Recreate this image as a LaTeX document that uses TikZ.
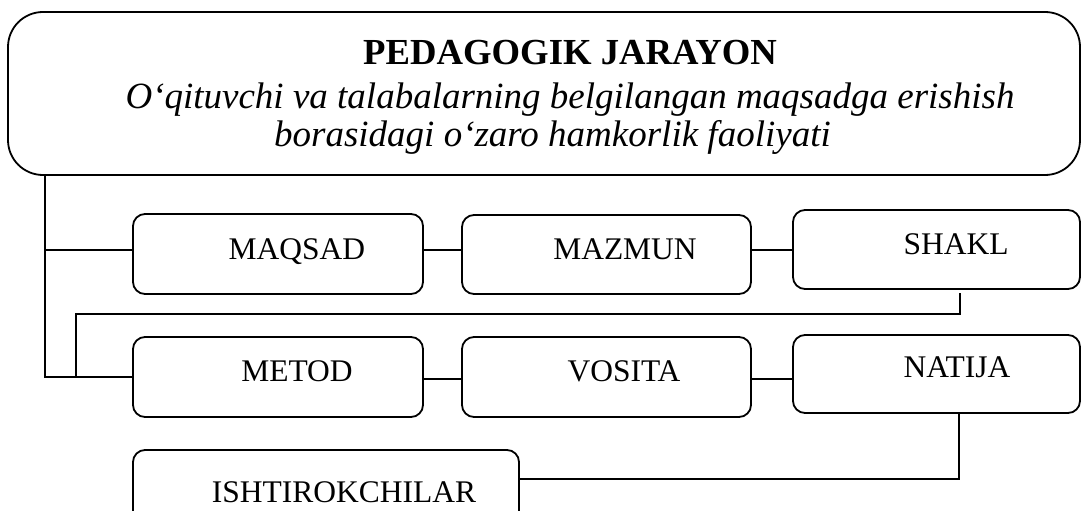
\documentclass[tikz,border=0pt]{standalone}
\usepackage{fontspec}
\setmainfont{Liberation Serif}
\usetikzlibrary{calc}
\begin{document}
\begin{tikzpicture}[x=1pt,y=-1pt,
  frame/.style={draw, line width=1.8pt, inner sep=0pt},
  smallbox/.style={frame, rounded corners=12pt, minimum height=79pt},
  lbl/.style={anchor=base, inner sep=0pt, font=\fontsize{31.5}{36}\selectfont},
  conn/.style={line width=1.8pt}]
\clip (0,0) rectangle (1082,511);
% header box
\node[frame, rounded corners=35pt, minimum width=1072pt, minimum height=163pt] (top) at (544,93.5) {};
\node[anchor=base, inner sep=0pt, font=\bfseries\fontsize{36.7}{40}\selectfont] (title) at (570,65) {PEDAGOGIK JARAYON};
\node[anchor=base, inner sep=0pt, font=\itshape\fontsize{37}{42}\selectfont] (def1) at (570,108) {O‘qituvchi va talabalarning belgilangan maqsadga erishish};
\node[anchor=base, inner sep=0pt, font=\itshape\fontsize{37}{42}\selectfont] (def2) at (552.5,146) {borasidagi o‘zaro hamkorlik faoliyati};
% row 1
\node[smallbox, minimum width=290pt, minimum height=80pt] (maqsad) at (278,254) {};
\node[smallbox, minimum width=289pt] (mazmun) at (606.5,254.5) {};
\node[smallbox, minimum width=287pt] (shakl) at (936.5,249.5) {};
\node[lbl] (tmaqsad) at (297,259) {MAQSAD};
\node[lbl] (tmazmun) at (625,259) {MAZMUN};
\node[lbl] (tshakl) at (956,254) {SHAKL};
% row 2
\node[smallbox, minimum width=290pt, minimum height=80pt] (metod) at (278,377) {};
\node[smallbox, minimum width=289pt, minimum height=80pt] (vosita) at (606.5,377) {};
\node[smallbox, minimum width=287pt, minimum height=78pt] (natija) at (936.5,374) {};
\node[lbl] (tmetod) at (297,381) {METOD};
\node[lbl] (tvosita) at (624,381) {VOSITA};
\node[lbl] (tnatija) at (957,377) {NATIJA};
% row 3
\node[smallbox, minimum width=386pt, minimum height=80pt] (ishtirok) at (326,490) {};
\node[lbl] (tishtirok) at (344,502) {ISHTIROKCHILAR};
% helper coordinates
\coordinate (spine) at (45,0);
\coordinate (r1) at (0,250);
\coordinate (r2) at (0,379);
\coordinate (ra) at (960,293);
\coordinate (rm) at (0,314);
\coordinate (rb) at (76,376);
\coordinate (nx) at (959,0);
\coordinate (iy) at (0,479);
% connectors
\draw[conn] (top.south -| spine) |- (metod.west);
\draw[conn] (spine |- r1) -- (maqsad.west |- r1);
\draw[conn] (maqsad.east |- r1) -- (mazmun.west |- r1);
\draw[conn] (mazmun.east |- r1) -- (shakl.west |- r1);
\draw[conn] (metod.east |- r2) -- (vosita.west |- r2);
\draw[conn] (vosita.east |- r2) -- (natija.west |- r2);
\draw[conn] (ra) -- (ra |- rm) -- (rb |- rm) -- (rb);
\draw[conn] (natija.south -| nx) |- (ishtirok.east |- iy);
\end{tikzpicture}
\end{document}
